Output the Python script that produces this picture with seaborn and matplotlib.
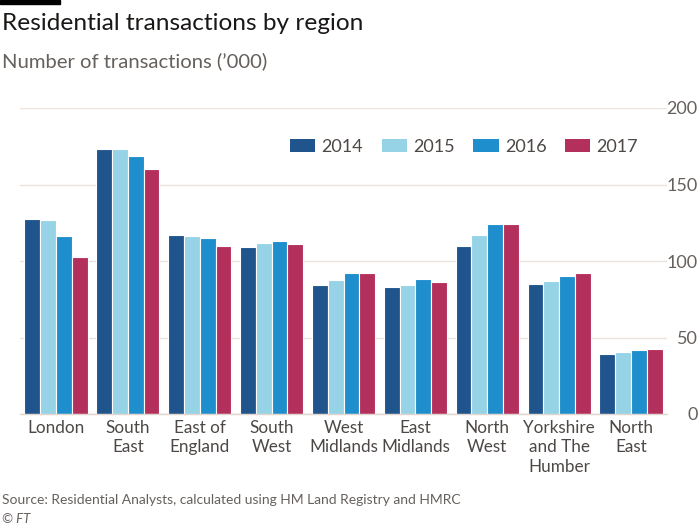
import matplotlib
matplotlib.use("Agg")
import matplotlib.pyplot as plt
import seaborn as sns
import pandas as pd

regions = ["London", "South\nEast", "East of\nEngland", "South\nWest", "West\nMidlands",
           "East\nMidlands", "North\nWest", "Yorkshire\nand The\nHumber", "North\nEast"]
years = ["2014", "2015", "2016", "2017"]
v2014 = [127.2, 173.2, 117.0, 109.4, 84.3, 82.8, 110.0, 84.7, 39.0]
v2015 = [126.6, 173.0, 116.3, 111.5, 87.8, 84.5, 117.0, 86.9, 40.5]
v2016 = [116.3, 168.4, 115.0, 113.0, 92.4, 88.5, 124.0, 90.2, 41.6]
v2017 = [102.4, 159.9, 109.8, 110.9, 91.9, 86.3, 124.4, 92.2, 42.5]
yticks = [0, 50, 100, 150, 200]

colors = ["#1f548d", "#97d3e6", "#1f8ecd", "#b3305c"]

rows = []
for y, vals in zip(years, [v2014, v2015, v2016, v2017]):
    for r, v in zip(regions, vals):
        rows.append({"region": r, "year": y, "value": v})
df = pd.DataFrame(rows)

sns.set_theme(style="white")
plt.rcParams["font.family"] = ["Lato", "DejaVu Sans"]

fig = plt.figure(figsize=(7.0, 5.27), dpi=100)
ax = fig.add_axes([20 / 700, 1 - 414 / 527, 647 / 700, 306 / 527])

sns.barplot(data=df, x="region", y="value", hue="year", order=regions, hue_order=years,
            palette=colors, width=0.88, edgecolor="white", linewidth=0.8,
            saturation=1, errorbar=None, ax=ax)

ax.set_xlim(-0.5, len(regions) - 0.5)
ax.set_ylim(0, 200)
ax.set_yticks(yticks)
ax.yaxis.tick_right()
ax.tick_params(axis="y", length=0, pad=22, labelsize=13, labelcolor="#66605c")
for lab in ax.get_yticklabels():
    lab.set_horizontalalignment("right")
ax.tick_params(axis="x", length=0, pad=4, labelsize=12.3, labelcolor="#4d4845")
for lab in ax.get_xticklabels():
    lab.set_linespacing(1.27)
ax.set_xlabel("")
ax.set_ylabel("")
ax.grid(axis="y", color="#ebe3dc", linewidth=1)
ax.grid(axis="x", visible=False)
ax.set_axisbelow(True)
for s in ["top", "left", "right"]:
    ax.spines[s].set_visible(False)
ax.spines["bottom"].set_color("#e0d5cc")
ax.spines["bottom"].set_linewidth(1)

ax.legend(ncol=4, frameon=False, loc="center left",
          bbox_to_anchor=(290 / 700, 1 - 147 / 527), bbox_transform=fig.transFigure,
          fontsize=13, handlelength=1.4, handleheight=0.72, handletextpad=0.35,
          columnspacing=1.02, borderpad=0, borderaxespad=0,
          labelcolor="#4d4845")
for h in ax.get_legend().get_patches():
    h.set_edgecolor("none")

fig.text(2 / 700, 1 - 23 / 527, "Residential transactions by region", fontsize=17.6,
         color="#1a1817", va="center", ha="left")
fig.text(2 / 700, 1 - 61 / 527, "Number of transactions (\u2019000)", fontsize=14.6,
         color="#66605c", va="center", ha="left")
fig.text(2 / 700, 1 - 500 / 527,
         "Source: Residential Analysts, calculated using HM Land Registry and HMRC",
         fontsize=10, color="#66605c", va="center", ha="left")
fig.text(2 / 700, 1 - 519 / 527, "\u00a9 FT", fontsize=9.5, color="#66605c",
         va="center", ha="left", style="italic")
fig.patches.append(matplotlib.patches.Rectangle((0, 1 - 4 / 527), 60 / 700, 4 / 527,
                                                transform=fig.transFigure,
                                                color="black", zorder=5))

fig.savefig("out.png", dpi=100, facecolor="white")
